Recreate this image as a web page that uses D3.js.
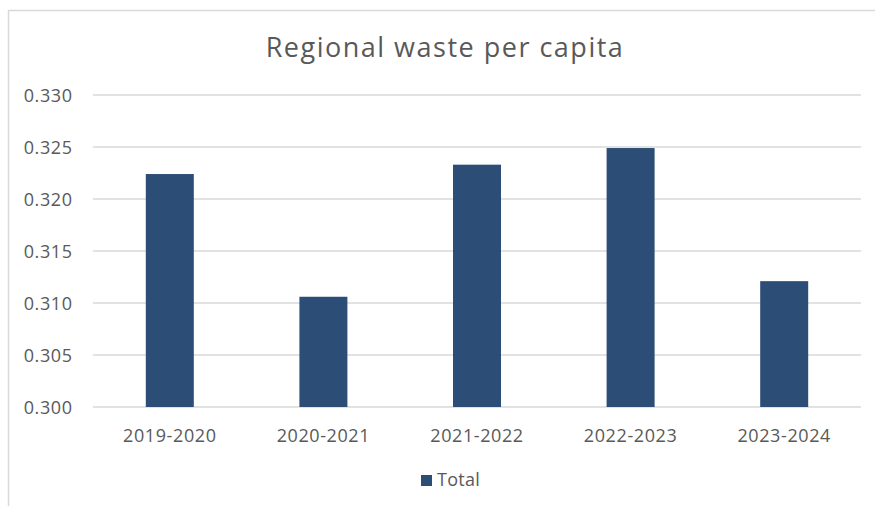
<!DOCTYPE html>
<html lang="en">
<head>
    <meta charset="UTF-8">
    <title>Regional waste per capita</title>
    <script src="https://d3js.org/d3.v7.min.js"></script>
    <style>
        body { margin: 0; background: #ffffff; }
        text { font-family: "Open Sans", sans-serif; fill: #595959; }
    </style>
</head>
<body>
<svg width="875" height="506"></svg>

<script>
    // data
    const years = ["2019-2020", "2020-2021", "2021-2022", "2022-2023", "2023-2024"];
    const totals = [0.3224, 0.3106, 0.3233, 0.3249, 0.3121];
    const yTicks = [0.300, 0.305, 0.310, 0.315, 0.320, 0.325, 0.330];
    const seriesName = "Total";

    const barColor = "#2c4d75";
    const gridColor = "#d9d9d9";

    let svg = d3.select("svg");

    // chart frame
    svg.append("path")
        .attr("d", "M8.5,506 L8.5,10.5 L875,10.5")
        .attr("fill", "none")
        .attr("stroke", gridColor)
        .attr("stroke-width", 1.5);

    const plotLeft = 93, plotRight = 861, plotTop = 95, plotBottom = 407;

    let x = d3.scaleBand()
        .domain(years)
        .range([plotLeft, plotRight]);

    let y = d3.scaleLinear()
        .domain([0.300, 0.330])
        .range([plotBottom, plotTop]);

    // gridlines
    svg.append("g")
        .selectAll("line")
        .data(yTicks)
        .enter()
        .append("line")
        .attr("x1", plotLeft)
        .attr("x2", plotRight)
        .attr("y1", d => y(d))
        .attr("y2", d => y(d))
        .attr("stroke", gridColor)
        .attr("stroke-width", 1.5);

    // y tick labels
    svg.append("g")
        .selectAll("text")
        .data(yTicks)
        .enter()
        .append("text")
        .attr("x", 72.6)
        .attr("y", d => y(d) + 6.5)
        .attr("text-anchor", "end")
        .attr("font-size", "18px")
        .attr("letter-spacing", "0.6px")
        .text(d => d3.format(".3f")(d));

    // bars
    const barW = x.bandwidth() * 0.3125;
    svg.append("g")
        .selectAll("rect")
        .data(totals)
        .enter()
        .append("rect")
        .attr("x", (d, i) => x(years[i]) + (x.bandwidth() - barW) / 2)
        .attr("y", d => y(d))
        .attr("width", barW)
        .attr("height", d => y(0.300) - y(d))
        .attr("fill", barColor);

    // category labels
    svg.append("g")
        .selectAll("text")
        .data(years)
        .enter()
        .append("text")
        .attr("x", d => x(d) + x.bandwidth() / 2)
        .attr("y", 442)
        .attr("text-anchor", "middle")
        .attr("font-size", "18px")
        .attr("letter-spacing", "0.6px")
        .text(d => d);

    // title
    svg.append("text")
        .attr("x", 445)
        .attr("y", 57)
        .attr("text-anchor", "middle")
        .attr("font-size", "27px")
        .attr("letter-spacing", "1.5px")
        .text("Regional waste per capita");

    // legend
    svg.append("rect")
        .attr("x", 421)
        .attr("y", 475)
        .attr("width", 11)
        .attr("height", 11)
        .attr("fill", barColor);
    svg.append("text")
        .attr("x", 437)
        .attr("y", 486)
        .attr("font-size", "18px")
        .attr("letter-spacing", "0.3px")
        .text(seriesName);
</script>
</body>
</html>
